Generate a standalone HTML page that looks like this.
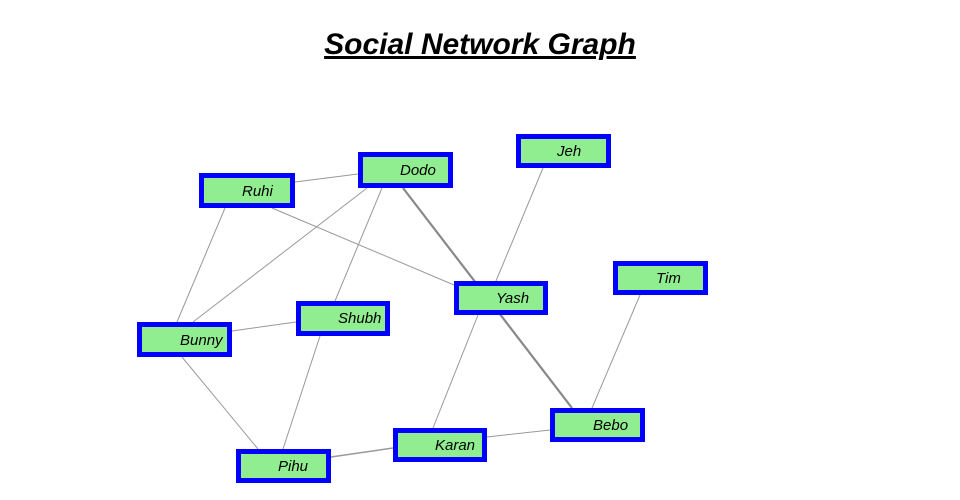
<!DOCTYPE html>
<html><head><meta charset="utf-8"><style>
html,body{margin:0;padding:0;background:#fff;width:960px;height:500px;overflow:hidden}
</style></head><body>
<svg width="960" height="500" xmlns="http://www.w3.org/2000/svg">
<text x="480" y="54" text-anchor="middle" font-family="Liberation Sans, sans-serif" font-size="30" font-style="italic" font-weight="bold" text-decoration="underline" fill="#000">Social Network Graph</text>
<g stroke="#999" stroke-width="1">
<line x1="295" y1="182" x2="358" y2="174"/>
<line x1="225" y1="208" x2="177" y2="322"/>
<line x1="272" y1="208" x2="454" y2="285"/>
<line x1="367" y1="188" x2="193" y2="322"/>
<line x1="382" y1="188" x2="335" y2="301"/>
<line x1="232" y1="331" x2="296" y2="322"/>
<line x1="182" y1="357" x2="258" y2="449"/>
<line x1="320" y1="336" x2="283" y2="449"/>
<line x1="543" y1="168" x2="496" y2="281"/>
<line x1="478" y1="315" x2="433" y2="428"/>
<line x1="640" y1="295" x2="592" y2="408"/>
<line x1="487" y1="437" x2="550" y2="430"/>
<line x1="331" y1="457" x2="393" y2="448" stroke-width="1.5"/>
<line x1="403" y1="188" x2="572" y2="408" stroke-width="2.2" stroke="#888"/>
</g>
<g fill="#90ee90" stroke="#0000ff" stroke-width="5" font-family="Liberation Sans, sans-serif" font-size="15" font-style="italic">
<rect x="201.5" y="175.5" width="91" height="30"/>
<rect x="360.5" y="154.5" width="90" height="31"/>
<rect x="518.5" y="136.5" width="90" height="29"/>
<rect x="456.5" y="283.5" width="89" height="29"/>
<rect x="615.5" y="263.5" width="90" height="29"/>
<rect x="139.5" y="324.5" width="90" height="30"/>
<rect x="298.5" y="303.5" width="89" height="30"/>
<rect x="552.5" y="410.5" width="90" height="29"/>
<rect x="395.5" y="430.5" width="89" height="29"/>
<rect x="238.5" y="451.5" width="90" height="29"/>
</g>
<g font-family="Liberation Sans, sans-serif" font-size="15" font-style="italic" fill="#000">
<text x="242" y="196">Ruhi</text>
<text x="400" y="175">Dodo</text>
<text x="557" y="156">Jeh</text>
<text x="496" y="303">Yash</text>
<text x="656" y="283">Tim</text>
<text x="180" y="345">Bunny</text>
<text x="338" y="323">Shubh</text>
<text x="593" y="430">Bebo</text>
<text x="435" y="450">Karan</text>
<text x="278" y="471">Pihu</text>
</g>
</svg>
</body></html>
